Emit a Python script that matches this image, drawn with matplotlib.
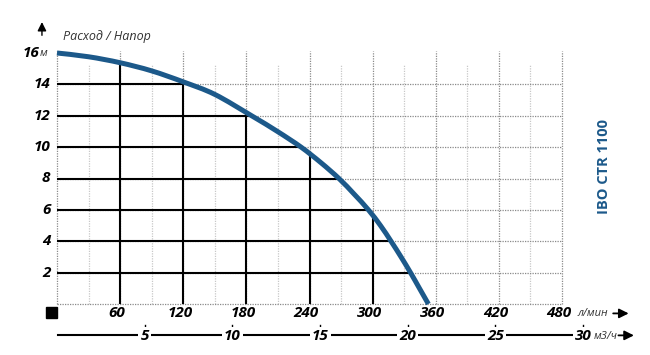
import numpy as np
import matplotlib
matplotlib.use("Agg")
import matplotlib.pyplot as plt
from matplotlib.path import Path
from matplotlib.patches import PathPatch

# Данные кривой расход / напор (л/мин, м)
flow = [0, 30, 60, 90, 120, 150, 185, 209.5, 232, 251, 268, 282.5, 296, 307.5, 317.5, 327, 336, 344.5, 353]
head = [16, 15.76, 15.38, 14.86, 14.16, 13.36, 12, 11, 10, 9, 8, 7, 6, 5, 4, 3, 2, 1, 0]

x_ticks = [60, 120, 180, 240, 300, 360, 420, 480]
y_ticks = [2, 4, 6, 8, 10, 12, 14]
m3h_ticks = [5, 10, 15, 20, 25, 30]
model = "IBO CTR 1100"

blue = "#1c598a"
plt.rcParams['font.family'] = ['Open Sans', 'DejaVu Sans']


def smooth_path(xs, ys, close_to=None):
    """Гладкий путь через точки (Catmull-Rom -> кривые Безье)"""
    p = np.column_stack([xs, ys]).astype(float)
    verts = [p[0]]
    codes = [Path.MOVETO]
    n = len(p)
    for i in range(n - 1):
        p0 = p[i - 1] if i > 0 else p[i]
        p3 = p[i + 2] if i + 2 < n else p[i + 1]
        c1 = p[i] + (p[i + 1] - p0) / 6
        c2 = p[i + 1] - (p3 - p[i]) / 6
        verts += [c1, c2, p[i + 1]]
        codes += [Path.CURVE4] * 3
    if close_to is not None:
        verts += [close_to, p[0]]
        codes += [Path.LINETO, Path.CLOSEPOLY]
    return Path(verts, codes)


fig = plt.figure(figsize=(6.5, 3.55), dpi=100)
ax = fig.add_axes([57/650, 51/355, 505/650, 251/355])
ax.set_xlim(0, 480)
ax.set_ylim(0, 16)
ax.axis('off')

# сетка пунктиром
for x in range(30, 480, 60):
    ax.plot([x, x], [0, 15.3], color="#c8c8c8", lw=0.9, ls=(0, (1, 1)), clip_on=False)
for x in [0] + x_ticks:
    ax.plot([x, x], [0, 16.1], color="#8a8a8a", lw=0.9, ls=(0, (1, 1)), clip_on=False)
for y in [0] + y_ticks:
    ax.plot([0, 480], [y, y], color="#8a8a8a", lw=0.9, ls=(0, (1, 1)), clip_on=False)

# сплошная сетка под кривой
clip = PathPatch(smooth_path(flow, head, close_to=(0, 0)), transform=ax.transData,
                 facecolor='none', edgecolor='none')
ax.add_patch(clip)
for x in x_ticks:
    l, = ax.plot([x, x], [0, 16], color="black", lw=1.5)
    l.set_clip_path(clip)
for y in y_ticks:
    l, = ax.plot([0, 480], [y, y], color="black", lw=1.5)
    l.set_clip_path(clip)

curve = PathPatch(smooth_path(flow, head), facecolor='none', edgecolor=blue, lw=3.6,
                  capstyle='butt', clip_on=False, zorder=5)
ax.add_patch(curve)

num = dict(fontsize=11, fontweight='bold', fontstyle='italic', color='black')
unit = dict(fontsize=8, fontstyle='italic', color='#333333')

# ось Y
for y in y_ticks:
    ax.text(-6.3, y, str(y), ha='right', va='center', **num)
ax.text(-16.5, 16, "16", ha='right', va='center', **num)
ax.text(-16.5, 15.95, "м", ha='left', va='center', **unit)
ax.annotate('', xy=(-14.3, 18.15), xytext=(-14.3, 16.95),
            arrowprops=dict(arrowstyle='-|>', color='black', lw=1, mutation_scale=13),
            annotation_clip=False)
ax.text(5.7, 17.08, "Расход / Напор", ha='left', va='center', fontsize=9,
        fontstyle='italic', color='#333333')

# ось л/мин
for x in x_ticks:
    ax.text(x - 3, -0.6, str(x), ha='center', va='center', **num)
ax.text(495, -0.62, "л/мин", ha='left', va='center', **unit)
ax.annotate('', xy=(546, -0.6), xytext=(526, -0.6),
            arrowprops=dict(arrowstyle='-|>', color='black', lw=1.3, mutation_scale=14),
            annotation_clip=False)
ax.fill([-10.5, 0, 0, -10.5], [-0.2, -0.2, -0.88, -0.88], color='black', clip_on=False)

# ось м3/ч
ax.plot([1, 500], [-2.0, -2.0], color='black', lw=1.5, clip_on=False)
for m in m3h_ticks:
    xm = m * 1000 / 60
    ax.plot([xm, xm], [-1.35, -1.6], color='black', lw=1, clip_on=False)
    ax.text(xm, -2.02, str(m), ha='center', va='center',
            bbox=dict(facecolor='white', edgecolor='none', pad=1.5), **num)
ax.text(510, -2.04, "м3/ч", ha='left', va='center', **unit)
ax.annotate('', xy=(551, -2.0), xytext=(531, -2.0),
            arrowprops=dict(arrowstyle='-|>', color='black', lw=1.3, mutation_scale=14),
            annotation_clip=False)

fig.text(604/650, 1 - 166/355, model, rotation=90, ha='center', va='center',
         fontsize=10.5, fontweight='bold', color=blue)

fig.savefig("out.png", dpi=100)
